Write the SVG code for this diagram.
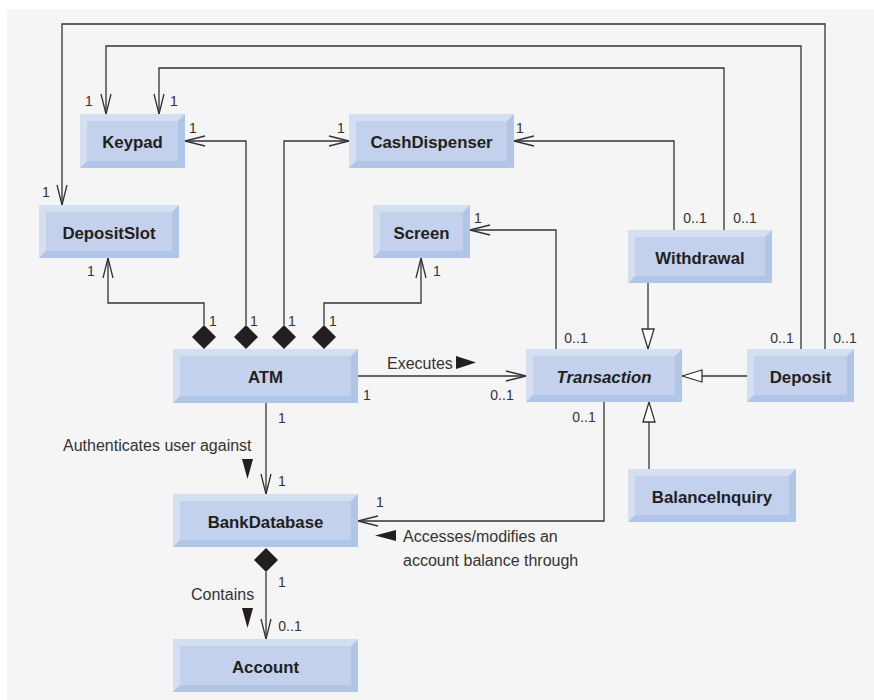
<svg xmlns="http://www.w3.org/2000/svg" width="874" height="700" viewBox="0 0 874 700">
<style>
.lt{fill:#d5dff2}
.dk{fill:#b1c5e7}
.fc{fill:#c3d1ec}
.nm{font-family:"Liberation Sans",Arial,sans-serif;font-weight:bold;font-size:16.8px;fill:#231f20;text-anchor:middle}
.it{font-style:italic}
.lb{font-family:"Liberation Sans",Arial,sans-serif;font-size:16px;fill:#333}
.m{font-family:"Liberation Sans",Arial,sans-serif;font-size:14px;fill:#333;text-anchor:middle}
.ln{fill:none;stroke:#333;stroke-width:1.3}
.op{marker-end:url(#open)}
.gn{marker-end:url(#hollow)}
.dia{fill:#231f20}
.tri{fill:#231f20}
</style>
<defs>
<marker id="open" viewBox="-21 -6 22 12" refX="0" refY="0" markerWidth="22" markerHeight="12" orient="auto" markerUnits="userSpaceOnUse">
<path d="M-20,-5 L0,0 L-20,5" fill="none" stroke="#333" stroke-width="1.3"/>
</marker>
<marker id="hollow" viewBox="-22 -8 24 16" refX="0" refY="0" markerWidth="24" markerHeight="16" orient="auto" markerUnits="userSpaceOnUse">
<path d="M-20,-6 L0,0 L-20,6 Z" fill="#ffffff" stroke="#333" stroke-width="1.3"/>
</marker>
</defs>
<rect x="7" y="9" width="867" height="691" fill="#f5f5f5"/>

<g id="connectors">
<path class="ln op" d="M204,325 V303 H108 V258"/>
<path class="ln op" d="M246,325 V141 H185"/>
<path class="ln op" d="M284,325 V141 H349"/>
<path class="ln op" d="M324,325 V303 H421 V258"/>
<path class="ln op" d="M358,376 H526"/>
<path class="ln op" d="M266,403 V494"/>
<path class="ln op" d="M604,402 V521 H358"/>
<path class="ln op" d="M556,349 V230 H470"/>
<path class="ln op" d="M674,230 V141 H514"/>
<path class="ln op" d="M724,230 V68 H159 V114"/>
<path class="ln op" d="M801,349 V46 H106 V114"/>
<path class="ln op" d="M825,349 V24 H62 V205"/>
<path class="ln gn" d="M648,283 V349"/>
<path class="ln gn" d="M747,376 H682"/>
<path class="ln gn" d="M649,469 V402"/>
<path class="ln op" d="M266,572 V639"/>
<polygon class="dia" points="204,325 216,337 204,349 192,337"/>
<polygon class="dia" points="246,325 258,337 246,349 234,337"/>
<polygon class="dia" points="284,325 296,337 284,349 272,337"/>
<polygon class="dia" points="324,325 336,337 324,349 312,337"/>
<polygon class="dia" points="266,548 278,560 266,572 254,560"/>
<polygon class="tri" points="456,356 476,362.5 456,369"/>
<polygon class="tri" points="242,459 253,459 247.5,479"/>
<polygon class="tri" points="396,530 375,535.5 396,541"/>
<polygon class="tri" points="242,608 253,608 247.5,628"/>
<text class="lb" x="387" y="369">Executes</text>
<text class="lb" x="63" y="451">Authenticates user against</text>
<text class="lb" x="403" y="542">Accesses/modifies an</text>
<text class="lb" x="403" y="566">account balance through</text>
<text class="lb" x="191" y="600">Contains</text>
<text class="m" x="213" y="326">1</text>
<text class="m" x="254" y="326">1</text>
<text class="m" x="292" y="326">1</text>
<text class="m" x="333" y="326">1</text>
<text class="m" x="367" y="400">1</text>
<text class="m" x="502" y="400">0..1</text>
<text class="m" x="89" y="106">1</text>
<text class="m" x="174" y="106">1</text>
<text class="m" x="193" y="133">1</text>
<text class="m" x="341" y="133">1</text>
<text class="m" x="520" y="133">1</text>
<text class="m" x="46" y="197">1</text>
<text class="m" x="91" y="276">1</text>
<text class="m" x="437" y="276">1</text>
<text class="m" x="478" y="223">1</text>
<text class="m" x="695" y="223">0..1</text>
<text class="m" x="745" y="223">0..1</text>
<text class="m" x="576" y="343">0..1</text>
<text class="m" x="782" y="343">0..1</text>
<text class="m" x="845" y="343">0..1</text>
<text class="m" x="584" y="422">0..1</text>
<text class="m" x="282" y="423">1</text>
<text class="m" x="282" y="486">1</text>
<text class="m" x="380" y="507">1</text>
<text class="m" x="282" y="587">1</text>
<text class="m" x="290" y="631">0..1</text>
</g>

<g id="keypad">
<rect class="lt" x="80" y="114" width="105" height="54"/>
<polygon class="dk" points="185,114 185,168 80,168 87,161 178,161 178,121"/>
<rect class="fc" x="87" y="121" width="91" height="40"/>
<text class="nm" x="132.5" y="148">Keypad</text>
</g>
<g id="cashdispenser">
<rect class="lt" x="349" y="114" width="165" height="54"/>
<polygon class="dk" points="514,114 514,168 349,168 356,161 507,161 507,121"/>
<rect class="fc" x="356" y="121" width="151" height="40"/>
<text class="nm" x="431.5" y="148">CashDispenser</text>
</g>
<g id="depositslot">
<rect class="lt" x="39" y="205" width="140" height="53"/>
<polygon class="dk" points="179,205 179,258 39,258 46,251 172,251 172,212"/>
<rect class="fc" x="46" y="212" width="126" height="39"/>
<text class="nm" x="109" y="238.5">DepositSlot</text>
</g>
<g id="screen">
<rect class="lt" x="373" y="205" width="97" height="53"/>
<polygon class="dk" points="470,205 470,258 373,258 380,251 463,251 463,212"/>
<rect class="fc" x="380" y="212" width="83" height="39"/>
<text class="nm" x="421.5" y="238.5">Screen</text>
</g>
<g id="withdrawal">
<rect class="lt" x="628" y="230" width="144" height="53"/>
<polygon class="dk" points="772,230 772,283 628,283 635,276 765,276 765,237"/>
<rect class="fc" x="635" y="237" width="130" height="39"/>
<text class="nm" x="700" y="263.5">Withdrawal</text>
</g>
<g id="atm">
<rect class="lt" x="173" y="349" width="185" height="54"/>
<polygon class="dk" points="358,349 358,403 173,403 180,396 351,396 351,356"/>
<rect class="fc" x="180" y="356" width="171" height="40"/>
<text class="nm" x="265.5" y="383">ATM</text>
</g>
<g id="transaction">
<rect class="lt" x="526" y="349" width="156" height="53"/>
<polygon class="dk" points="682,349 682,402 526,402 533,395 675,395 675,356"/>
<rect class="fc" x="533" y="356" width="142" height="39"/>
<text class="nm it" x="604" y="382.5">Transaction</text>
</g>
<g id="deposit">
<rect class="lt" x="747" y="349" width="107" height="53"/>
<polygon class="dk" points="854,349 854,402 747,402 754,395 847,395 847,356"/>
<rect class="fc" x="754" y="356" width="93" height="39"/>
<text class="nm" x="800.5" y="382.5">Deposit</text>
</g>
<g id="bankdatabase">
<rect class="lt" x="173" y="494" width="185" height="53"/>
<polygon class="dk" points="358,494 358,547 173,547 180,540 351,540 351,501"/>
<rect class="fc" x="180" y="501" width="171" height="39"/>
<text class="nm" x="265.5" y="527.5">BankDatabase</text>
</g>
<g id="balanceinquiry">
<rect class="lt" x="628" y="469" width="168" height="53"/>
<polygon class="dk" points="796,469 796,522 628,522 635,515 789,515 789,476"/>
<rect class="fc" x="635" y="476" width="154" height="39"/>
<text class="nm" x="712" y="502.5">BalanceInquiry</text>
</g>
<g id="account">
<rect class="lt" x="173" y="639" width="185" height="53"/>
<polygon class="dk" points="358,639 358,692 173,692 180,685 351,685 351,646"/>
<rect class="fc" x="180" y="646" width="171" height="39"/>
<text class="nm" x="265.5" y="672.5">Account</text>
</g>
</svg>
